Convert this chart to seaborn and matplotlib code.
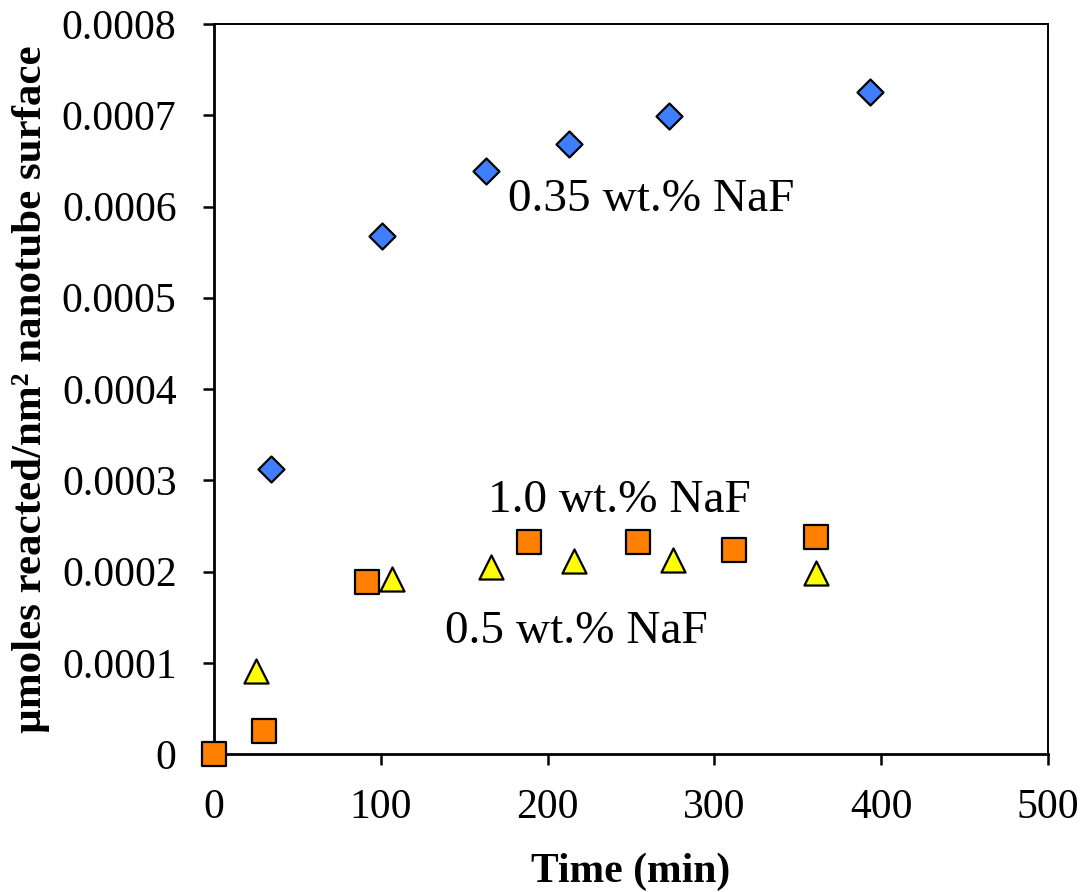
import numpy as np
import pandas as pd
import matplotlib
matplotlib.use("Agg")
import matplotlib.pyplot as plt
import seaborn as sns

# Data
time_035 = [34, 101, 163, 213, 273, 393]
val_035 = [0.000312, 0.000568, 0.000639, 0.000668, 0.000699, 0.000726]

time_10 = [0, 30, 92, 189, 254, 312, 361]
val_10 = [0.0, 0.0000255, 0.000188, 0.000232, 0.000232, 0.000224, 0.000238]

time_05 = [25, 107, 166, 216, 275, 361]
val_05 = [0.0000915, 0.000192, 0.000205, 0.000212, 0.000213, 0.000198]

x_ticks = [0, 100, 200, 300, 400, 500]
y_ticks = [0, 0.0001, 0.0002, 0.0003, 0.0004, 0.0005, 0.0006, 0.0007, 0.0008]
y_tick_labels = ["0", "0.0001", "0.0002", "0.0003", "0.0004", "0.0005", "0.0006", "0.0007", "0.0008"]

labels = ["0.35 wt.% NaF", "1.0 wt.% NaF", "0.5 wt.% NaF"]

sns.set_theme(style="white")
plt.rcParams['font.family'] = ['Liberation Serif', 'DejaVu Serif']
plt.rcParams['text.color'] = 'black'
plt.rcParams['axes.labelcolor'] = 'black'
plt.rcParams['xtick.color'] = 'black'
plt.rcParams['ytick.color'] = 'black'

fig = plt.figure(figsize=(10.83, 8.92), dpi=100)
ax = fig.add_axes([214/1083, 1 - 754/892, (1048-214)/1083, (754-24)/892])

df035 = pd.DataFrame({"t": time_035, "v": val_035})
df10 = pd.DataFrame({"t": time_10, "v": val_10})
df05 = pd.DataFrame({"t": time_05, "v": val_05})

sns.scatterplot(data=df035, x="t", y="v", marker="D", s=175, color="#3F7FFF",
                edgecolor="black", linewidth=1.6, ax=ax, zorder=3, clip_on=False)
sns.scatterplot(data=df05, x="t", y="v", marker="^", s=300, color="#FFFF00",
                edgecolor="black", linewidth=1.6, ax=ax, zorder=3, clip_on=False)
sns.scatterplot(data=df10, x="t", y="v", marker="s", s=290, color="#FF7F00",
                edgecolor="black", linewidth=1.6, ax=ax, zorder=4, clip_on=False)

ax.set_xlim(0, 500)
ax.set_ylim(0, 0.0008)
ax.set_xticks(x_ticks)
ax.set_xticklabels([str(v) for v in x_ticks])
ax.set_yticks(y_ticks)
ax.set_yticklabels(y_tick_labels)

ax.tick_params(axis="both", which="major", direction="out", length=8, width=1.8,
               labelsize=30, colors="black", labelcolor="black",
               bottom=True, left=True, top=False, right=False)
ax.tick_params(axis="y", pad=19)
ax.tick_params(axis="x", pad=17)

for side in ["left", "bottom"]:
    ax.spines[side].set_linewidth(2.0)
    ax.spines[side].set_color("black")
for side in ["top", "right"]:
    ax.spines[side].set_linewidth(1.4)
    ax.spines[side].set_color("black")
    ax.spines[side].set_visible(True)

ax.set_xlabel("Time (min)", fontsize=30, fontweight="bold", labelpad=18, color="black")
ax.set_ylabel("µmoles reacted/nm² nanotube surface", fontsize=31, fontweight="bold", color="black")
ax.yaxis.set_label_coords(-0.197, 0.5)

ax.text(176, 0.000607, labels[0], fontsize=34, ha="left", va="center", color="black")
ax.text(164, 0.000278, labels[1], fontsize=34, ha="left", va="center", color="black")
ax.text(138.5, 0.000134, labels[2], fontsize=34, ha="left", va="center", color="black")

fig.savefig("out.png", dpi=100)
